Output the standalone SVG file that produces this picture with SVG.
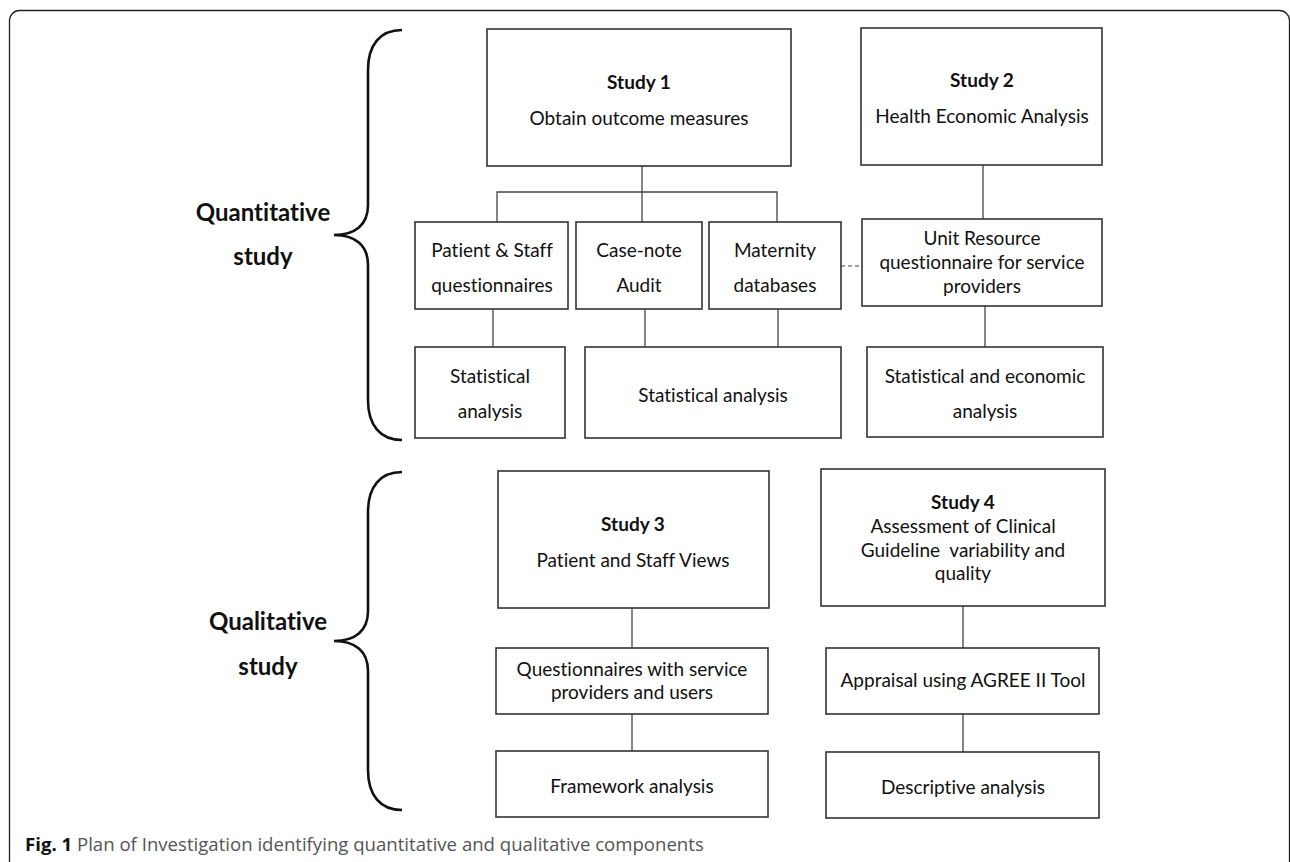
<svg xmlns="http://www.w3.org/2000/svg" width="1290" height="862" viewBox="0 0 1290 862">
<style>
.box{fill:#fff;stroke:#333;stroke-width:1.6}
.conn{stroke:#444;stroke-width:1.3;fill:none}
.dash{stroke:#444;stroke-width:1.2;stroke-dasharray:4 3;fill:none}
.brace{stroke:#111;stroke-width:2.6;fill:none}
text{font-family:Lato,"Open Sans",sans-serif;fill:#111;text-anchor:middle;font-variant-ligatures:none}
.t{font-size:19px}
.b{font-size:19px;font-weight:bold}
.big{font-size:24px;font-weight:bold}
.cap{font-family:"Open Sans",sans-serif;font-size:18.6px;fill:#555;text-anchor:start}
</style>
<rect x="9.5" y="10.5" width="1280" height="900" rx="10" fill="none" stroke="#222" stroke-width="1.3"/>
<g id="braces">
<path class="brace" d="M402,30 C380,30 368,45 368,70 V205 C368,225 355,235 334,235 C355,235 368,245 368,265 V400 C368,425 380,440 402,440"/>
<path class="brace" d="M402,472 C380,472 368,487 368,512 V611 C368,631 355,641 334,641 C355,641 368,651 368,671 V770 C368,795 380,810 402,810"/>
</g>
<g id="label-quant"><text class="big" x="263" y="221">Quantitative</text><text class="big" x="263" y="265">study</text></g>
<g id="label-qual"><text class="big" x="268" y="630">Qualitative</text><text class="big" x="268" y="675">study</text></g>
<g id="connectors">
<line class="conn" x1="642" y1="166" x2="642" y2="222"/>
<polyline class="conn" points="497,222 497,192 777,192 777,222"/>
<line class="dash" x1="841" y1="266" x2="862" y2="266"/>
<line class="conn" x1="493" y1="309" x2="493" y2="347"/>
<line class="conn" x1="645" y1="309" x2="645" y2="347"/>
<line class="conn" x1="778" y1="309" x2="778" y2="347"/>
<line class="conn" x1="983" y1="165" x2="983" y2="219"/>
<line class="conn" x1="985" y1="306" x2="985" y2="347"/>
<line class="conn" x1="632" y1="608" x2="632" y2="648"/>
<line class="conn" x1="632" y1="714" x2="632" y2="751"/>
<line class="conn" x1="963" y1="606" x2="963" y2="648"/>
<line class="conn" x1="963" y1="714" x2="963" y2="752"/>
</g>
<g id="study1"><rect class="box" x="487" y="29" width="304" height="137"/><text class="b" x="639" y="89">Study 1</text><text class="t" x="639" y="125">Obtain outcome measures</text></g>
<g id="study2"><rect class="box" x="861" y="28" width="241" height="137"/><text class="b" x="982" y="87">Study 2</text><text class="t" x="982" y="123">Health Economic Analysis</text></g>
<g id="patient-staff-q"><rect class="box" x="415" y="222" width="153" height="87"/><text class="t" x="492" y="257">Patient &amp; Staff</text><text class="t" x="492" y="292">questionnaires</text></g>
<g id="case-note"><rect class="box" x="576" y="222" width="126" height="87"/><text class="t" x="639" y="257">Case-note</text><text class="t" x="639" y="292">Audit</text></g>
<g id="maternity"><rect class="box" x="709" y="222" width="132" height="87"/><text class="t" x="775" y="257">Maternity</text><text class="t" x="775" y="292">databases</text></g>
<g id="unit-resource"><rect class="box" x="862" y="219" width="240" height="87"/><text class="t" x="982" y="245">Unit Resource</text><text class="t" x="982" y="269">questionnaire for service</text><text class="t" x="982" y="293">providers</text></g>
<g id="stat1"><rect class="box" x="415" y="347" width="150" height="91"/><text class="t" x="490" y="383">Statistical</text><text class="t" x="490" y="418">analysis</text></g>
<g id="stat2"><rect class="box" x="585" y="347" width="256" height="91"/><text class="t" x="713" y="402">Statistical analysis</text></g>
<g id="stat-econ"><rect class="box" x="867" y="347" width="236" height="90"/><text class="t" x="985" y="383">Statistical and economic</text><text class="t" x="985" y="418">analysis</text></g>
<g id="study3"><rect class="box" x="498" y="471" width="271" height="137"/><text class="b" x="633" y="531">Study 3</text><text class="t" x="633" y="567">Patient and Staff Views</text></g>
<g id="study4"><rect class="box" x="821" y="469" width="284" height="137"/><text class="b" x="963" y="509">Study 4</text><text class="t" x="963" y="533">Assessment of Clinical</text><text class="t" x="963" y="557" xml:space="preserve">Guideline  variability and</text><text class="t" x="963" y="580">quality</text></g>
<g id="questionnaires"><rect class="box" x="496" y="648" width="272" height="66"/><text class="t" x="632" y="676">Questionnaires with service</text><text class="t" x="632" y="699">providers and users</text></g>
<g id="appraisal"><rect class="box" x="826" y="648" width="273" height="66"/><text class="t" x="963" y="687">Appraisal using AGREE II Tool</text></g>
<g id="framework"><rect class="box" x="496" y="751" width="272" height="66"/><text class="t" x="632" y="793">Framework analysis</text></g>
<g id="descriptive"><rect class="box" x="826" y="752" width="273" height="66"/><text class="t" x="963" y="794">Descriptive analysis</text></g>
<g id="caption"><text class="cap" x="25" y="851"><tspan font-weight="bold" fill="#111">Fig. 1</tspan> Plan of Investigation identifying quantitative and qualitative components</text></g>
</svg>
